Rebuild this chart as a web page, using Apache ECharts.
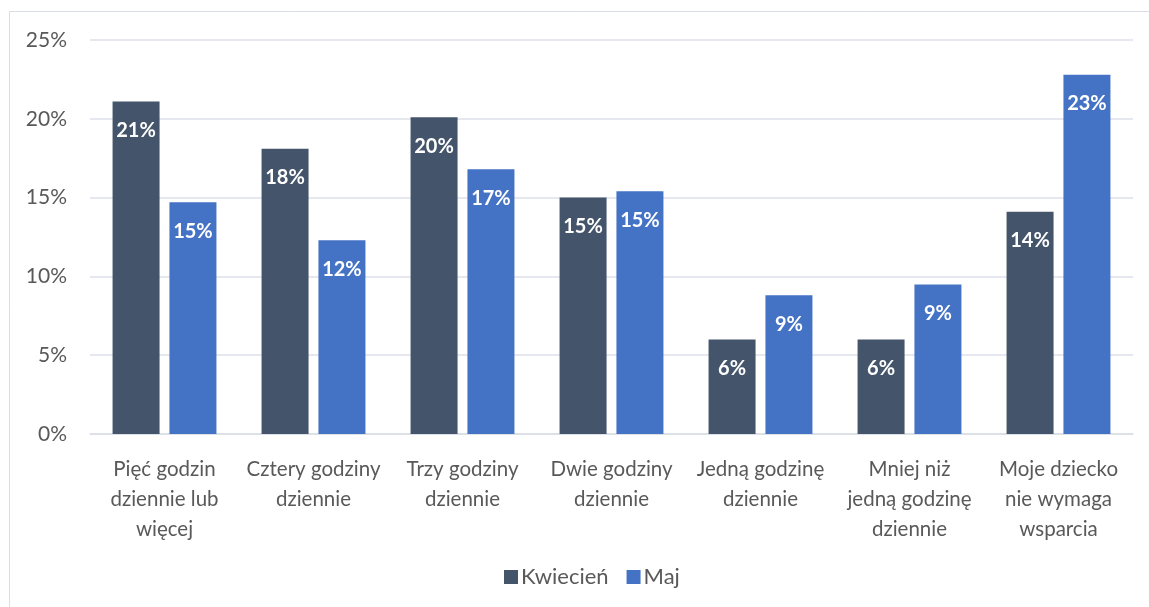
<!DOCTYPE html>
<html><head><meta charset="utf-8">
<script src="https://cdn.jsdelivr.net/npm/echarts@6/dist/echarts.min.js"></script>
<style>html,body{margin:0;padding:0;background:#fff}#c{width:1149px;height:607px}</style>
</head><body><div id="c"></div>
<script>
const categories = ["Pięć godzin\ndziennie lub\nwięcej","Cztery godziny\ndziennie","Trzy godziny\ndziennie","Dwie godziny\ndziennie","Jedną godzinę\ndziennie","Mniej niż\njedną godzinę\ndziennie","Moje dziecko\nnie wymaga\nwsparcia"];
const kwiecien = [21.1, 18.1, 20.1, 15.0, 6.0, 6.0, 14.1];
const maj = [14.7, 12.3, 16.8, 15.4, 8.8, 9.49, 22.8];
const yTicks = [0, 5, 10, 15, 20, 25];
const seriesNames = ["Kwiecień", "Maj"];

const font = "Lato, 'Open Sans', sans-serif";
const chart = echarts.init(document.getElementById('c'), null, {renderer:'canvas'});
const lbl = {show:true, position:'insideTop', distance:19, color:'#fff', fontWeight:'bold', fontSize:20, fontFamily:font, formatter:p=>Math.round(p.value)+'%'};
chart.setOption({
  animation:false,
  graphic:[{type:'rect', shape:{x:9.5,y:11.5,width:1200,height:700}, style:{fill:null, stroke:'#d9dee6', lineWidth:1}, silent:true}],
  grid:{left:90, right:16, top:40, bottom:173, containLabel:false},
  legend:{data:seriesNames, bottom:14, left:499, itemWidth:14, itemHeight:14, itemGap:18, icon:'rect',
    textStyle:{fontFamily:font, fontSize:22, color:'#595959', padding:[0,0,0,-2]}},
  xAxis:{type:'category', data:categories, axisTick:{show:false},
    axisLine:{lineStyle:{color:'#d9dee6', width:1.5}},
    axisLabel:{fontFamily:font, fontSize:20.5, color:'#595959', lineHeight:30, margin:20, interval:0}},
  yAxis:{type:'value', min:0, max:25, interval:5,
    axisLabel:{formatter:v=>v+'%', fontFamily:font, fontSize:21, color:'#595959', margin:23},
    splitLine:{lineStyle:{color:'#dde2ea', width:1.5}}, axisLine:{show:false}, axisTick:{show:false}},
  series:[
    {name:seriesNames[0], type:'bar', data:kwiecien, barWidth:47, barGap:'21%', itemStyle:{color:'#44546A'}, label:lbl},
    {name:seriesNames[1], type:'bar', data:maj, barWidth:47, itemStyle:{color:'#4472C4'}, label:lbl}
  ]
});
</script></body></html>
